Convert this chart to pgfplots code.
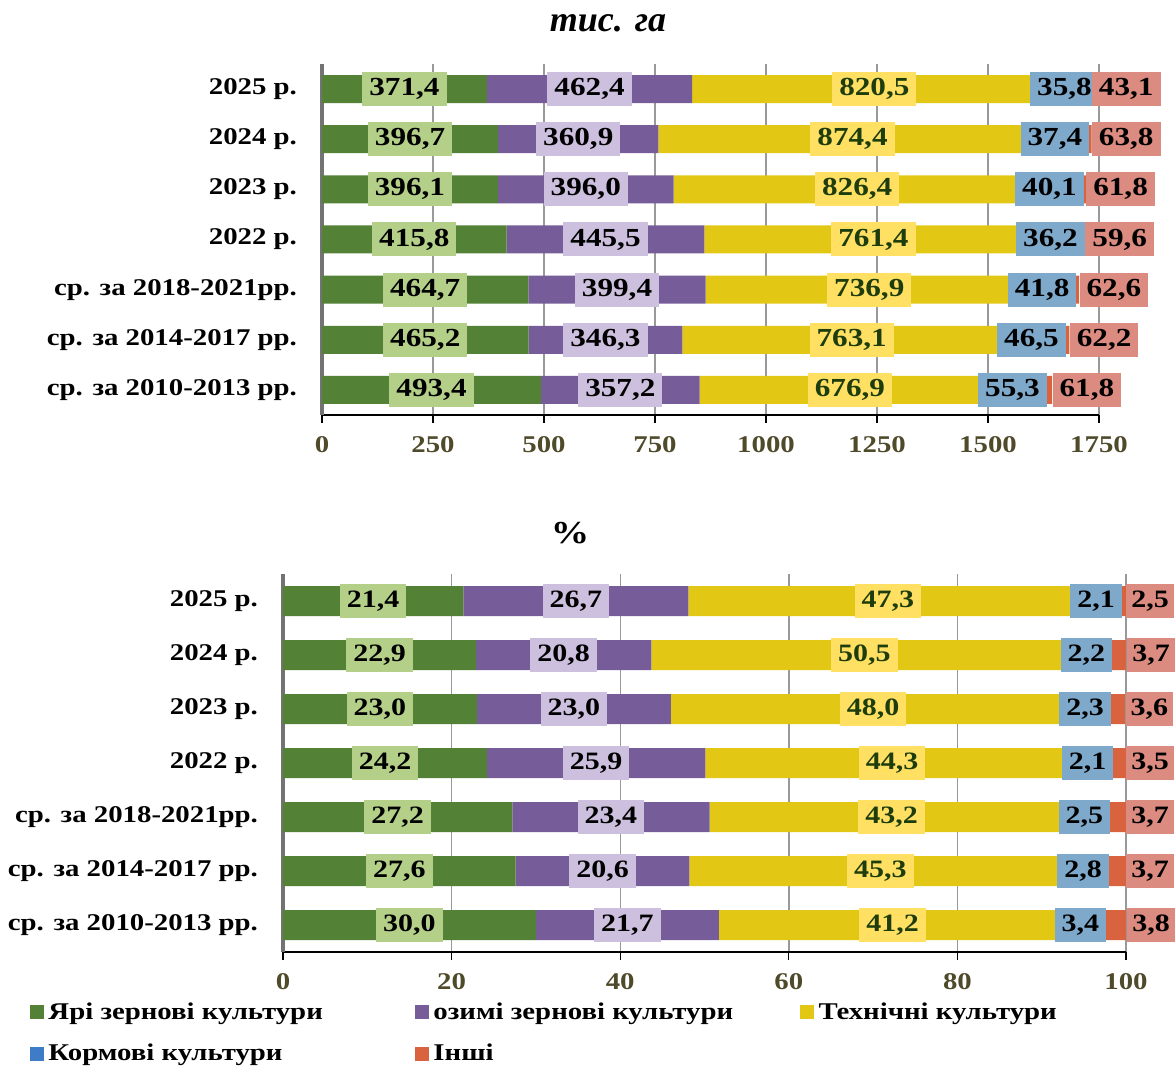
\documentclass[border=0pt]{standalone}
\usepackage{fontspec}
\setmainfont{Liberation Serif}[FakeStretch=1.2]
\newfontfamily\plainserif{Liberation Serif}
\usepackage{pgfplots}
\usepackage{pgfplotstable}
\pgfplotsset{compat=1.18}

\definecolor{cGreen}{HTML}{538135}
\definecolor{cPurple}{HTML}{775C9A}
\definecolor{cYellow}{HTML}{E2C714}
\definecolor{cBlue}{HTML}{3F7CC8}
\definecolor{cRed}{HTML}{D9623F}
\definecolor{lGreen}{HTML}{B4CF88}
\definecolor{lPurple}{HTML}{CDC0DE}
\definecolor{lYellow}{HTML}{FFE063}
\definecolor{lBlue}{HTML}{7EA9CA}
\definecolor{lRed}{HTML}{DB8B80}
\definecolor{tickc}{HTML}{4F4A2A}
\definecolor{dkgreen}{HTML}{1E3D0C}

% thousand ha
\pgfplotstableread{
i g p y b r
0 493.4 357.2 676.9 55.3 61.8
1 465.2 346.3 763.1 46.5 62.2
2 464.7 399.4 736.9 41.8 62.6
3 415.8 445.5 761.4 36.2 59.6
4 396.1 396.0 826.4 40.1 61.8
5 396.7 360.9 874.4 37.4 63.8
6 371.4 462.4 820.5 35.8 43.1
}\hatable

% percent
\pgfplotstableread{
i g p y b r
0 30.0 21.7 41.2 3.4 3.8
1 27.6 20.6 45.3 2.8 3.7
2 27.2 23.4 43.2 2.5 3.7
3 24.2 25.9 44.3 2.1 3.5
4 23.0 23.0 48.0 2.3 3.6
5 22.9 20.8 50.5 2.2 3.7
6 21.4 26.7 47.3 2.1 2.5
}\pctable

\pgfplotsset{
  chart/.style={
    scale only axis, anchor=south west, xbar stacked,
    ymin=-0.5, ymax=6.5, ytick={0,...,6},
    yticklabels={ср. за 2010-2013 рр., ср. за 2014-2017 рр., ср. за 2018-2021рр., 2022 р., 2023 р., 2024 р., 2025 р.},
    axis x line*=bottom, axis y line*=left,
    x axis line style={line width=1pt, black},
    y axis line style={line width=1.6pt, black!55},
    xmajorgrids, grid style={line width=0.7pt, black!40},
    tick align=outside, major tick length=4pt,
    ytick style={draw=none},
    xtick style={line width=0.6pt, black},
    /pgf/number format/assume math mode=true,
    /pgf/number format/1000 sep={},
    xticklabel style={font=\bfseries\fontsize{12}{12}\selectfont, text=tickc, yshift=-3pt},
    yticklabel style={font=\bfseries\fontsize{12}{12}\selectfont, text=black, xshift=-5pt},
    legend image code/.code={\fill[#1, draw=none] (0pt,-3.5pt) rectangle (7pt,3.5pt);},
  },
  labels/.style={
    scale only axis, anchor=south west, hide axis, clip=false,
    ymin=-0.5, ymax=6.5,
  },
  lbl/.style={only marks, draw=none, fill=none, mark=*, mark size=0pt,
    mark options={draw=none, fill=none},
    point meta=explicit,
    nodes near coords={\pgfmathprintnumber[fixed,fixed zerofill,precision=1,use comma,assume math mode=true]{\pgfplotspointmeta}},
    every node near coord/.style={font=\bfseries\fontsize{\lblsize}{\lblsize}\selectfont,
      inner xsep=3.5pt, inner ysep=1.5pt, minimum height=17pt, text=black,
      anchor=center, fill=#1}},
}

\begin{document}
\begin{tikzpicture}
\path[use as bounding box] (0,0) rectangle (588pt,532.5pt);
\node[font=\plainserif\bfseries\itshape\fontsize{18}{18}\selectfont] at (304pt,521pt) {тис. га};
\node[font=\bfseries\fontsize{16}{16}\selectfont] at (285pt,266pt) {\%};

% ---------- top: thousand ha ----------
\def\lblsize{13}
\begin{axis}[chart, at={(161pt,325pt)}, width=388.5pt, height=175.5pt,
  xmin=0, xmax=1750, xtick={0,250,...,1750}, bar width=14pt]
\addplot[fill=cGreen, draw=none] table[x=g, y=i] {\hatable};
\addplot[fill=cPurple, draw=none] table[x=p, y=i] {\hatable};
\addplot[fill=cYellow, draw=none] table[x=y, y=i] {\hatable};
\addplot[fill=cBlue, draw=none] table[x=b, y=i] {\hatable};
\addplot[fill=cRed, draw=none] table[x=r, y=i] {\hatable};
\end{axis}
\begin{axis}[labels, at={(161pt,325pt)}, width=388.5pt, height=175.5pt,
  xmin=0, xmax=1750]
\addplot[lbl=lGreen] table[x expr=\thisrow{g}/2, y=i, meta=g] {\hatable};
\addplot[lbl=lPurple] table[x expr=\thisrow{g}+\thisrow{p}/2, y=i, meta=p] {\hatable};
\addplot[lbl=lYellow, every node near coord/.append style={text=dkgreen}]
  table[x expr=\thisrow{g}+\thisrow{p}+\thisrow{y}/2, y=i, meta=y] {\hatable};
\addplot[lbl=lBlue] table[x expr=\thisrow{g}+\thisrow{p}+\thisrow{y}+\thisrow{b}/2, y=i, meta=b] {\hatable};
\addplot[lbl=lRed, every node near coord/.append style={anchor=west}]
  table[x expr=\thisrow{g}+\thisrow{p}+\thisrow{y}+\thisrow{b}+\thisrow{r}, y=i, meta=r] {\hatable};
\end{axis}

% ---------- bottom: percent ----------
\def\lblsize{12.5}
\begin{axis}[chart, at={(141.5pt,56.5pt)}, width=421.5pt, height=189pt,
  xmin=0, xmax=100, xtick={0,20,...,100}, bar width=15pt,
  legend columns=3, legend cell align=left,
  legend style={at={(axis description cs:-0.300,-0.122)}, anchor=north west,
    draw=none, fill=none, inner sep=0pt, row sep=7pt,
    font=\bfseries\fontsize{12}{12}\selectfont,
    /tikz/every even column/.append style={column sep=0pt}}]
\addplot[fill=cGreen, draw=none] table[x=g, y=i] {\pctable};
\addlegendentry{\makebox[181.5pt][l]{Ярі зернові культури}}
\addplot[fill=cPurple, draw=none] table[x=p, y=i] {\pctable};
\addlegendentry{\makebox[181.5pt][l]{озимі зернові культури}}
\addplot[fill=cYellow, draw=none] table[x=y, y=i] {\pctable};
\addlegendentry{Технічні культури}
\addplot[fill=cBlue, draw=none] table[x=b, y=i] {\pctable};
\addlegendentry{\makebox[181.5pt][l]{Кормові культури}}
\addplot[fill=cRed, draw=none] table[x=r, y=i] {\pctable};
\addlegendentry{Інші}
\end{axis}
\begin{axis}[labels, at={(141.5pt,56.5pt)}, width=421.5pt, height=189pt,
  xmin=0, xmax=100]
\addplot[lbl=lGreen] table[x expr=\thisrow{g}/2, y=i, meta=g] {\pctable};
\addplot[lbl=lPurple] table[x expr=\thisrow{g}+\thisrow{p}/2, y=i, meta=p] {\pctable};
\addplot[lbl=lYellow, every node near coord/.append style={text=dkgreen}]
  table[x expr=\thisrow{g}+\thisrow{p}+\thisrow{y}/2, y=i, meta=y] {\pctable};
\addplot[lbl=lBlue] table[x expr=\thisrow{g}+\thisrow{p}+\thisrow{y}+\thisrow{b}/2, y=i, meta=b] {\pctable};
\addplot[lbl=lRed, every node near coord/.append style={anchor=west, inner xsep=2.5pt}]
  table[x expr=\thisrow{g}+\thisrow{p}+\thisrow{y}+\thisrow{b}+\thisrow{r}, y=i, meta=r] {\pctable};
\end{axis}
\end{tikzpicture}
\end{document}
